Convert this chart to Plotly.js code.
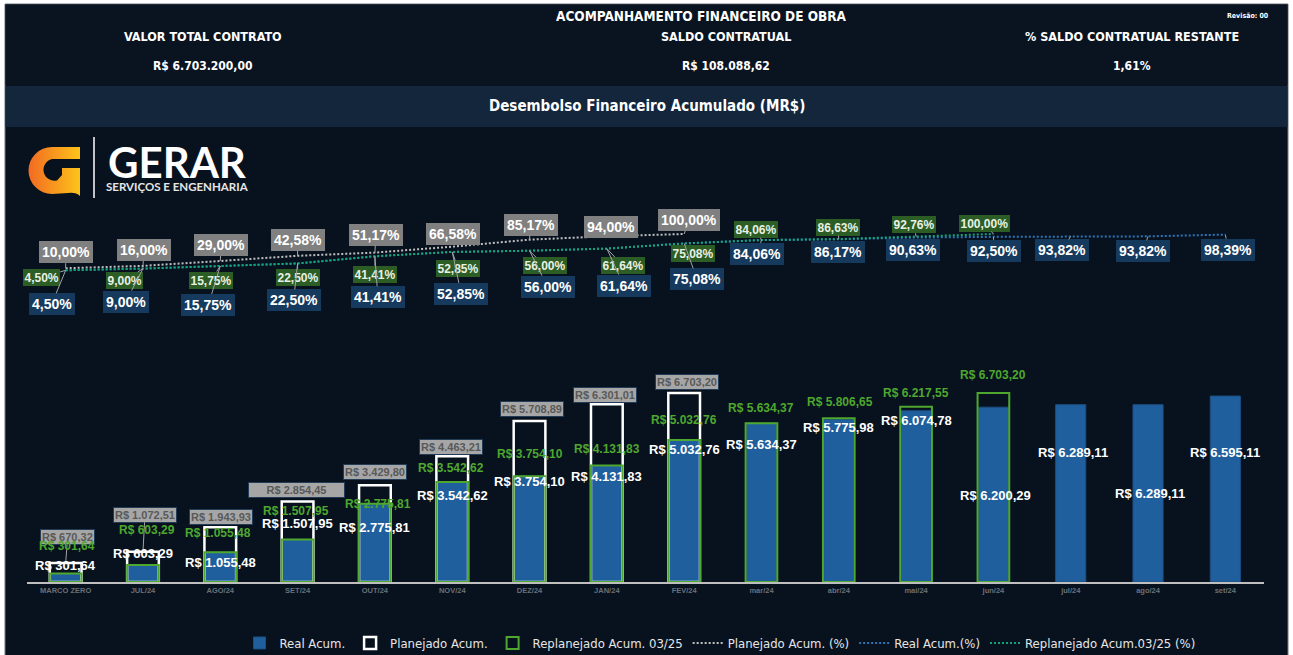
<!DOCTYPE html>
<html><head><meta charset="utf-8">
<script src="https://cdn.plot.ly/plotly-3.0.1.min.js"></script>
<style>html,body{margin:0;padding:0;background:#fff;overflow:hidden}#chart{width:1293px;height:655px}</style>
</head><body><div id="chart"></div>
<script>
// ---------------- DATA ----------------
const categories = ['MARCO ZERO','JUL/24','AGO/24','SET/24','OUT/24','NOV/24','DEZ/24','JAN/24','FEV/24','mar/24','abr/24','mai/24','jun/24','jul/24','ago/24','set/24'];
const realAcum = [301.64,603.29,1055.48,1507.95,2775.81,3542.62,3754.10,4131.83,5032.76,5634.37,5775.98,6074.78,6200.29,6289.11,6289.11,6595.11];
const planejadoAcum = [670.32,1072.51,1943.93,2854.45,3429.80,4463.21,5708.89,6301.01,6703.20];
const replanejadoAcum = [301.64,603.29,1055.48,1507.95,2775.81,3542.62,3754.10,4131.83,5032.76,5634.37,5806.65,6217.55,6703.20];
const planejadoPct = [10.00,16.00,29.00,42.58,51.17,66.58,85.17,94.00,100.00];
const realPct = [4.50,9.00,15.75,22.50,41.41,52.85,56.00,61.64,75.08,84.06,86.17,90.63,92.50,93.82,93.82,98.39];
const replanejadoPct = [4.50,9.00,15.75,22.50,41.41,52.85,56.00,61.64,75.08,84.06,86.63,92.76,100.00];
const seriesNames = ['Real Acum.','Planejado Acum.','Replanejado Acum. 03/25','Planejado Acum. (%)','Real Acum.(%)','Replanejado Acum.03/25 (%)'];
const headerTitle = 'ACOMPANHAMENTO FINANCEIRO DE OBRA';
const revisao = 'Revisão: 00';
const kpiLabels = ['VALOR TOTAL CONTRATO','SALDO CONTRATUAL','% SALDO CONTRATUAL RESTANTE'];
const kpiValues = ['R$ 6.703.200,00','R$ 108.088,62','1,61%'];
const chartTitle = 'Desembolso Financeiro Acumulado (MR$)';

// ---------------- LABEL PLACEMENT (pixel offsets) ----------------
const planPctOff = [[0,-16],[1,-16],[1,-16],[0,-16],[1,-18],[1,-13],[1,-15],[4,-9],[5,-14]];
const replanPctOff = [[-24,7],[-18,12],[-9,14],[0,14],[0,18],[6,17],[15,15],[16,17],[9,10],[-5,-11],[-1,-12],[-2,-12],[-9,-11]];
const realPctOff = [[-14,34],[-17,33],[-12,39],[-4,37],[3,41],[9,42],[18,36],[17,37],[13,36],[-4,14],[-1,13],[-3,12],[1,14],[-9,14],[-5,15],[3,15]];
const realBarOff = [[0,-8],[0,-11],[0,10],[0,-16],[0,24],[0,13],[0,5],[0,11],[0,9],[0,21],[0,8],[0,10],[2,88],[2,48],[2,89],[0,56]];
const replanBarOff = [[1,-28],[4,-35],[-2,-19],[-2,-28],[3,0],[-1,-14],[0,-22],[0,-17],[0,-20],[0,-15],[1,-16],[0,-14],[0,-18]];
const planBarOff = [[2,-26],[2,-37],[1,-10],[-1,-12],[0,-13],[-1,-9],[2,-12],[-2,-9],[3,-11]];

// ---------------- GEOMETRY ----------------
const W = 1293, H = 655, L = 27, R = 1264, T = 130, B = 582;
const pxPerUnit = 189 / 6703.2;
const pctZeroPx = 272, pxPerPct = 0.38;
const X = px => (px - L) / (R - L);
const Y = py => (B - py) / (B - T);

const NARROW = '"Liberation Sans Narrow", "DejaVu Sans Condensed", "Arial Narrow", sans-serif';
const SANS = '"Liberation Sans", Arial, sans-serif';

function brl(v) {
  const parts = v.toFixed(2).split('.');
  const int = parts[0].replace(/\B(?=(\d{3})+(?!\d))/g, '.');
  return 'R$ ' + int + ',' + parts[1];
}
const pct = v => v.toFixed(2).replace('.', ',') + '%';

// ---------------- TRACES ----------------
const dashDot = '2px,2px';
const traces = [
  {type:'bar', name:seriesNames[0], x:categories, y:realAcum, width:0.39,
   marker:{color:'#1f5f9e', line:{color:'#1c4e80', width:1}}, hoverinfo:'skip'},
  {type:'bar', name:seriesNames[1], x:categories.slice(0, planejadoAcum.length), y:planejadoAcum, width:0.41,
   marker:{color:'rgba(0,0,0,0)', line:{color:'#ffffff', width:2.5}}, hoverinfo:'skip'},
  {type:'bar', name:seriesNames[2], x:categories.slice(0, replanejadoAcum.length), y:replanejadoAcum, width:0.41,
   marker:{color:'rgba(0,0,0,0)', line:{color:'#4ea72e', width:2}}, hoverinfo:'skip'},
  {type:'scatter', mode:'lines', name:seriesNames[3], x:categories.slice(0, planejadoPct.length), y:planejadoPct, yaxis:'y2',
   line:{color:'#bfbfbf', width:2, dash:dashDot}, hoverinfo:'skip'},
  {type:'scatter', mode:'lines', name:seriesNames[4], x:categories, y:realPct, yaxis:'y2',
   line:{color:'#2e74b5', width:2, dash:dashDot}, hoverinfo:'skip'},
  {type:'scatter', mode:'lines', name:seriesNames[5], x:categories.slice(0, replanejadoPct.length), y:replanejadoPct, yaxis:'y2',
   line:{color:'#14a47a', width:2, dash:dashDot}, hoverinfo:'skip'}
];

// ---------------- ANNOTATIONS ----------------
const ann = [];
function lbl(xv, yv, yref, text, off, st, leader) {
  const a = {x:xv, y:yv, xref:'x', yref:yref, text:text, showarrow:true,
    ax:off[0], ay:off[1], arrowhead:0, arrowwidth:1, standoff:0,
    arrowcolor: leader ? '#a3a3a3' : 'rgba(0,0,0,0)',
    font:st.font, bgcolor:st.bg || 'rgba(0,0,0,0)', bordercolor:st.border || 'rgba(0,0,0,0)',
    borderwidth:st.bw || 0, borderpad:st.pad || 0, align:'center'};
  if (st.width) a.width = st.width;
  ann.push(a);
}
const stPlanPct = {font:{family:SANS, size:14, color:'#ffffff', weight:'bold'}, bg:'#808080', pad:3};
const stRealPct = {font:{family:SANS, size:14, color:'#ffffff', weight:'bold'}, bg:'#163a5e', pad:3};
const stReplanPct = {font:{family:SANS, size:12, color:'#e9f1e4', weight:'bold'}, bg:'#2c5d25', pad:1.5};
const stPlanBar = {font:{family:SANS, size:11, color:'#595959', weight:'bold'}, bg:'#a6a6a6', border:'#223b57', bw:1, pad:1};
const stReplanBar = {font:{family:SANS, size:12, color:'#4ea72e', weight:'bold'}};
const stRealBar = {font:{family:SANS, size:13, color:'#ffffff', weight:'bold'}};

planejadoAcum.forEach((v, i) => {
  const st = Object.assign({}, stPlanBar);
  if (i === 3) st.width = 93;
  lbl(categories[i], v, 'y', brl(v), planBarOff[i], st, Math.abs(planBarOff[i][1]) > 20);
});
replanejadoAcum.forEach((v, i) => lbl(categories[i], v, 'y', brl(v), replanBarOff[i], stReplanBar, false));
realAcum.forEach((v, i) => lbl(categories[i], v, 'y', brl(v), realBarOff[i], stRealBar, false));
planejadoPct.forEach((v, i) => lbl(categories[i], v, 'y2', pct(v), planPctOff[i], stPlanPct, Math.abs(planPctOff[i][1]) > 13));
replanejadoPct.forEach((v, i) => lbl(categories[i], v, 'y2', pct(v), replanPctOff[i], stReplanPct, Math.abs(replanPctOff[i][1]) > 10 || Math.abs(replanPctOff[i][0]) > 22));
realPct.forEach((v, i) => lbl(categories[i], v, 'y2', pct(v), realPctOff[i], stRealPct, Math.abs(realPctOff[i][1]) > 13));

function ptext(px, py, text, font, xanchor) {
  ann.push({xref:'paper', yref:'paper', x:X(px), y:Y(py), text:text, showarrow:false,
    xanchor:xanchor || 'center', yanchor:'middle', font:font});
}
const hdrFont = s => ({family:NARROW, size:s, color:'#ffffff', weight:'bold'});
ptext(701, 16, headerTitle, hdrFont(13.5));
ptext(1271, 16, revisao, {family:NARROW, size:7, color:'#ffffff', weight:'bold'}, 'right');
const kpiX = [203, 726, 1132];
kpiLabels.forEach((t, i) => ptext(kpiX[i], 36, t, hdrFont(12.5)));
kpiValues.forEach((t, i) => ptext(kpiX[i], 66, t, hdrFont(12)));
ptext(647, 106, chartTitle, hdrFont(15));
// logo text
ptext(177, 162, 'GERAR', {family:'Lato, "Open Sans", sans-serif', size:42, color:'#ffffff', weight:'bold'});
ptext(177, 186, 'SERVIÇOS E ENGENHARIA', {family:'Lato, "Open Sans", sans-serif', size:11.5, color:'#e6e6e6', weight:'bold'});

// ---------------- SHAPES ----------------
const rectPx = (x0, y0, x1, y1, fill, line) => ({type:'rect', xref:'paper', yref:'paper', layer:'below',
  x0:X(x0), x1:X(x1), y0:Y(y1), y1:Y(y0), fillcolor:fill, line:line || {width:0}});
const shapes = [
  rectPx(5, 4, 1288, 660, '#08121e', {color:'#6f7680', width:1}),
  rectPx(5.5, 4.5, 1287.5, 85, '#0a1421'),
  rectPx(5.5, 86, 1287.5, 127, '#13263c'),
  {type:'line', xref:'paper', yref:'paper', layer:'above', x0:X(94), x1:X(94), y0:Y(137), y1:Y(198), line:{color:'#ffffff', width:1.5}}
];

// ---------------- LOGO ICON ----------------
const svg = "<svg xmlns='http://www.w3.org/2000/svg' viewBox='0 0 52 50' width='52' height='50'>" +
  "<defs><linearGradient id='g' x1='0' y1='0' x2='1' y2='0'><stop offset='0' stop-color='#f26a22'/><stop offset='1' stop-color='#fdc41a'/></linearGradient></defs>" +
  "<path fill='url(#g)' d='M52 1 L24 1 A23 23 0 0 0 24 48 L40 47 Q48 46 52 50 L52 22 L34 22 L34 29 L29 34.5 A11 11 0 1 1 24 13 L52 13 Z'/></svg>";
const images = [{source:'data:image/svg+xml;charset=utf-8,' + encodeURIComponent(svg),
  xref:'paper', yref:'paper', x:X(28), y:Y(146), sizex:52/(R-L), sizey:50/(B-T),
  xanchor:'left', yanchor:'top', sizing:'stretch', layer:'above'}];

// ---------------- LAYOUT ----------------
const layout = {
  width:W, height:H,
  margin:{l:L, r:W-R, t:T, b:H-B, pad:0, autoexpand:false},
  paper_bgcolor:'#ffffff', plot_bgcolor:'rgba(0,0,0,0)',
  barmode:'overlay', showlegend:true,
  xaxis:{type:'category', range:[-0.5, categories.length - 0.5], showline:true, linecolor:'#bfbfbf', linewidth:1.5,
    showgrid:false, zeroline:false, ticks:'', fixedrange:true, automargin:false,
    tickfont:{family:SANS, size:7.5, color:'#6b7078', weight:'bold'}},
  yaxis:{range:[0, (B - T) / pxPerUnit], visible:false, showgrid:false, zeroline:false, fixedrange:true},
  yaxis2:{overlaying:'y', range:[-(B - pctZeroPx) / pxPerPct, (pctZeroPx - T) / pxPerPct], visible:false,
    showgrid:false, zeroline:false, fixedrange:true},
  legend:{orientation:'h', x:X(720), xanchor:'center', y:Y(643), yanchor:'middle',
    font:{family:NARROW, size:13, color:'#e6e6e6'}, bgcolor:'rgba(0,0,0,0)', traceorder:'normal'},
  annotations:ann, shapes:shapes, images:images
};

Plotly.newPlot('chart', traces, layout, {displayModeBar:false, staticPlot:true});
</script></body></html>
